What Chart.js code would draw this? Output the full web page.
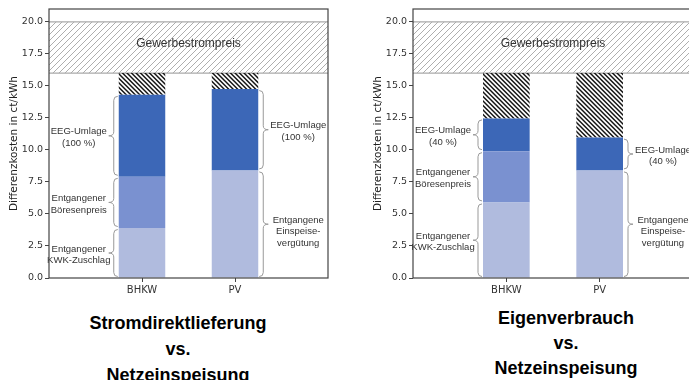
<!DOCTYPE html>
<html>
<head>
<meta charset="utf-8">
<script src="https://cdn.jsdelivr.net/npm/chart.js@4.4.1/dist/chart.umd.min.js"></script>
<style>
html, body { margin: 0; padding: 0; background: #fff; overflow: hidden; width: 689px; height: 380px; }
canvas { position: absolute; top: 0; }
#links { left: 0; }
#rechts { left: 364px; }
.titel { position: absolute; width: 240px; text-align: center; color: #000;
  font-family: "Liberation Sans", Arial, sans-serif; font-weight: bold; font-size: 18px; }
</style>
</head>
<body>
<canvas id="links" width="340" height="300"></canvas>
<canvas id="rechts" width="330" height="300"></canvas>
<div class="titel" style="left:58px; top:310px; line-height:26px">Stromdirektlieferung<br>vs.<br>Netzeinspeisung</div>
<div class="titel" style="left:446px; top:306px; line-height:25px">Eigenverbrauch<br>vs.<br>Netzeinspeisung</div>
<script>
const kategorien = ['BHKW', 'PV'];
const yTicks = [0, 2.5, 5, 7.5, 10, 12.5, 15, 17.5, 20];
const gewerbestrompreis = [16, 20];

// Stromdirektlieferung vs. Netzeinspeisung
const direktUnten = [3.9, 8.4];   // KWK-Zuschlag bzw. Einspeiseverguetung
const direktBoerse = [4.0, 0];
const direktEEG = [6.4, 6.35];

// Eigenverbrauch vs. Netzeinspeisung
const eigenUnten = [5.9, 8.4];
const eigenBoerse = [4.0, 0];
const eigenEEG = [2.56, 2.56];

const farbeHell = '#b0bbde';
const farbeMittel = '#7a91d0';
const farbeDunkel = '#3c67b7';

// Kachel mit zwei diagonalen Linien pro Periode
function schraffur(size, color, lw, richtung) {
    var c = document.createElement('canvas');
    c.width = size; c.height = size;
    var g = c.getContext('2d');
    g.strokeStyle = color;
    g.lineWidth = lw;
    g.beginPath();
    var h = size / 2;
    [-size, -h, 0, h, size].forEach(function(o) {
        if (richtung === '/') {
            g.moveTo(o - 1, size + 1); g.lineTo(o + size + 1, -1);
        } else {
            g.moveTo(o - 1, -1); g.lineTo(o + size + 1, size + 1);
        }
    });
    g.stroke();
    return g.createPattern(c, 'repeat');
}

const bandMuster = schraffur(12, '#999', 0.8, '/');
const balkenMuster = schraffur(9, '#151515', 1.5, '\\');

const deko = {
    id: 'deko',
    beforeDatasetsDraw: function(chart) {
        var ctx = chart.ctx, a = chart.chartArea, y = chart.scales.y;
        var yo = y.getPixelForValue(gewerbestrompreis[1]);
        var yu = y.getPixelForValue(gewerbestrompreis[0]);
        ctx.save();
        ctx.fillStyle = bandMuster;
        ctx.fillRect(a.left, yo, a.right - a.left, yu - yo);
        ctx.strokeStyle = '#aaa';
        ctx.lineWidth = 1.3;
        ctx.beginPath();
        ctx.moveTo(a.left, yo); ctx.lineTo(a.right, yo);
        ctx.moveTo(a.left, yu); ctx.lineTo(a.right, yu);
        ctx.stroke();
        ctx.fillStyle = '#333';
        ctx.font = '12px "Liberation Sans", Arial, sans-serif';
        ctx.textAlign = 'center';
        ctx.textBaseline = 'middle';
        ctx.fillText('Gewerbestrompreis', (a.left + a.right) / 2, (yo + yu) / 2 - 4);
        ctx.restore();
    },
    afterDatasetsDraw: function(chart, args, opts) {
        var ctx = chart.ctx, a = chart.chartArea, y = chart.scales.y;
        var balken = chart.getDatasetMeta(0).data;
        ctx.save();
        (opts.klammern || []).forEach(function(k) {
            var b = balken[k.i];
            var kante = k.seite < 0 ? b.x - b.width / 2 : b.x + b.width / 2;
            var xe = kante + k.seite * 1, xs = kante + k.seite * 5, xt = kante + k.seite * 10;
            var ya = y.getPixelForValue(k.bis) + 1.5;
            var yb = y.getPixelForValue(k.von) - 1.5;
            var ym = (ya + yb) / 2;
            var r = Math.min(4, (yb - ya) / 4);
            ctx.strokeStyle = '#999';
            ctx.lineWidth = 1;
            ctx.beginPath();
            ctx.moveTo(xe, ya);
            ctx.quadraticCurveTo(xs, ya, xs, ya + r);
            ctx.lineTo(xs, ym - r);
            ctx.quadraticCurveTo(xs, ym, xt, ym);
            ctx.quadraticCurveTo(xs, ym, xs, ym + r);
            ctx.lineTo(xs, yb - r);
            ctx.quadraticCurveTo(xs, yb, xe, yb);
            ctx.stroke();
            ctx.fillStyle = '#333';
            ctx.font = '9.5px "Liberation Sans", Arial, sans-serif';
            ctx.textAlign = 'center';
            ctx.textBaseline = 'middle';
            k.text.forEach(function(t, n) {
                ctx.fillText(t, xt + k.seite * 30, ym - 4 + n * 11.5);
            });
        });
        ctx.strokeStyle = '#444';
        ctx.lineWidth = 1.2;
        ctx.strokeRect(a.left, a.top, a.right - a.left, a.bottom - a.top);
        ctx.restore();
    }
};

function klammern(unten, boerse, eeg, eegText) {
    return [
        { i: 0, von: 0, bis: unten[0], text: ['Entgangener', 'KWK-Zuschlag'], seite: -1 },
        { i: 0, von: unten[0], bis: unten[0] + boerse[0], text: ['Entgangener', 'Böresenpreis'], seite: -1 },
        { i: 0, von: unten[0] + boerse[0], bis: unten[0] + boerse[0] + eeg[0], text: ['EEG-Umlage', eegText], seite: -1 },
        { i: 1, von: 0, bis: unten[1], text: ['Entgangene', 'Einspeise-', 'vergütung'], seite: 1 },
        { i: 1, von: unten[1], bis: unten[1] + eeg[1], text: ['EEG-Umlage', eegText], seite: 1 }
    ];
}

function punkte(werte) {
    return kategorien.map(function(k, i) { return { x: i, y: werte[i] }; });
}

function zeichne(id, unten, boerse, eeg, eegText, rechtsPad) {
    var rest = kategorien.map(function(k, i) {
        return gewerbestrompreis[0] - unten[i] - boerse[i] - eeg[i];
    });
    return new Chart(document.getElementById(id), {
        type: 'bar',
        data: {
            datasets: [
                { label: 'unten', data: punkte(unten), backgroundColor: farbeHell, stack: 's' },
                { label: 'Börsenpreis', data: punkte(boerse), backgroundColor: farbeMittel, stack: 's' },
                { label: 'EEG-Umlage', data: punkte(eeg), backgroundColor: farbeDunkel, stack: 's' },
                { label: 'Rest', data: punkte(rest), backgroundColor: balkenMuster, stack: 's' }
            ]
        },
        options: {
            responsive: false,
            animation: false,
            devicePixelRatio: 1,
            layout: { padding: { top: 9, right: rechtsPad, bottom: 2, left: 0 } },
            datasets: { bar: { categoryPercentage: 1, barPercentage: 0.5, borderWidth: 0 } },
            plugins: {
                legend: { display: false },
                tooltip: { enabled: false },
                deko: { klammern: klammern(unten, boerse, eeg, eegText) }
            },
            scales: {
                x: {
                    type: 'linear', min: -1, max: 2, offset: false,
                    grid: { offset: false, drawOnChartArea: false, drawTicks: true, tickLength: 4, tickColor: '#444' },
                    border: { display: false },
                    afterBuildTicks: function(s) { s.ticks = kategorien.map(function(k, i) { return { value: i }; }); },
                    afterFit: function(s) { s.height = 20; },
                    ticks: {
                        callback: function(v) { return kategorien[v]; },
                        font: { family: 'DejaVu Sans', size: 10 }, color: '#333',
                        padding: 2, maxRotation: 0, autoSkip: false
                    }
                },
                y: {
                    stacked: true, min: 0, max: 21,
                    grid: { drawOnChartArea: false, drawTicks: true, tickLength: 4, tickColor: '#444' },
                    border: { display: false },
                    afterBuildTicks: function(s) { s.ticks = yTicks.map(function(v) { return { value: v }; }); },
                    afterFit: function(s) { s.width = 49; },
                    ticks: {
                        callback: function(v) { return v.toFixed(1); },
                        font: { family: 'DejaVu Sans', size: 9.5 }, color: '#333', padding: 2
                    },
                    title: {
                        display: true, text: 'Differenzkosten in ct/kWh', color: '#222',
                        font: { family: 'DejaVu Sans', size: 10.5 }, padding: { top: 8, bottom: 0 }
                    }
                }
            }
        },
        plugins: [deko]
    });
}

zeichne('links', direktUnten, direktBoerse, direktEEG, '(100 %)', 12);
zeichne('rechts', eigenUnten, eigenBoerse, eigenEEG, '(40 %)', 1);
</script>
</body>
</html>
